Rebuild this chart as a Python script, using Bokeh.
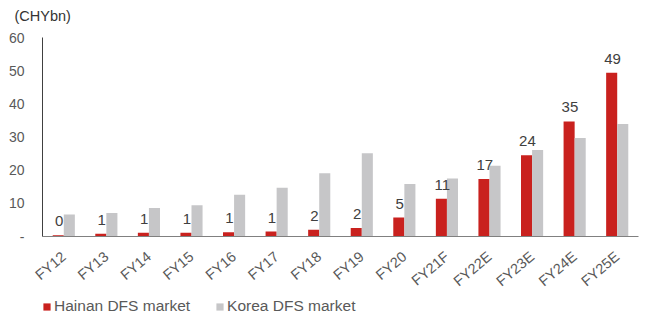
from bokeh.plotting import figure
from bokeh.layouts import column
from bokeh.models import (ColumnDataSource, FactorRange, Range1d, FixedTicker, Legend,
                          LegendItem)
from bokeh.transform import dodge
from bokeh.core.properties import value
from bokeh.embed import file_html
from bokeh.resources import INLINE

categories = ["FY12", "FY13", "FY14", "FY15", "FY16", "FY17", "FY18", "FY19",
              "FY20", "FY21F", "FY22E", "FY23E", "FY24E", "FY25E"]
hainan = [0.4, 0.8, 1.1, 1.1, 1.3, 1.5, 2.0, 2.6, 5.7, 11.4, 17.3, 24.5, 34.7, 49.4]
korea = [6.6, 7.1, 8.6, 9.4, 12.6, 14.7, 19.1, 25.1, 15.8, 17.5, 21.3, 26.1, 29.7, 33.9]
hainan_labels = ["0", "1", "1", "1", "1", "1", "2", "2", "5", "11", "17", "24", "35", "49"]
y_ticks = [0, 10, 20, 30, 40, 50, 60]
series_names = ["Hainan DFS market", "Korea DFS market"]
unit_label = "(CHYbn)"

FONT = "Liberation Sans"
RED = "#C9211E"
GREY = "#C6C6C8"


def strip(h, top=0):
    f = figure(width=645, height=h, x_range=Range1d(0, 1), y_range=Range1d(0, 1),
               x_axis_location=None, y_axis_location=None,
               output_backend="svg", toolbar_location=None,
               min_border_left=0, min_border_right=0, min_border_top=top, min_border_bottom=0)
    f.grid.visible = False
    f.outline_line_color = None
    f.background_fill_color = "white"
    f.border_fill_color = "white"
    return f


# top strip with the unit label (as a title, so it is not clipped)
p0 = strip(29, top=26)
p0.title.text = unit_label
p0.title.align = "left"
p0.title.offset = -28
p0.title.standoff = 5
p0.title.text_font = FONT
p0.title.text_font_size = "14.5px"
p0.title.text_font_style = "normal"
p0.title.text_color = "#333333"

src = ColumnDataSource(dict(cat=categories, hainan=hainan, korea=korea, lab=hainan_labels))

p = figure(width=645, height=269, x_range=FactorRange(factors=categories),
           y_range=Range1d(0, 60), output_backend="svg", toolbar_location=None,
           min_border_left=42, min_border_right=7, min_border_top=8, min_border_bottom=61)
p.outline_line_color = None
p.background_fill_color = "white"
p.border_fill_color = "white"
p.xgrid.grid_line_color = None
p.ygrid.grid_line_color = None

r1 = p.vbar(x=dodge("cat", -0.13, range=p.x_range), top="hainan", width=0.26,
            source=src, fill_color=RED, line_color=None)
r2 = p.vbar(x=dodge("cat", 0.13, range=p.x_range), top="korea", width=0.26,
            source=src, fill_color=GREY, line_color=None)

p.text(x=dodge("cat", -0.11, range=p.x_range), y="hainan", text="lab", source=src,
       text_align="center", text_baseline="bottom", y_offset=-9,
       text_font=value(FONT), text_font_size="15px", text_color="#404040")

# axes
p.yaxis.ticker = FixedTicker(ticks=y_ticks)
p.yaxis.major_label_overrides = {0: "-"}
p.yaxis.major_tick_line_color = None
p.yaxis.minor_tick_line_color = None
p.yaxis.axis_line_color = "#404040"
p.yaxis.major_label_standoff = 12
p.yaxis.major_label_text_font = FONT
p.yaxis.major_label_text_font_size = "14px"
p.yaxis.major_label_text_color = "#595959"

p.xaxis.major_tick_line_color = None
p.xaxis.axis_line_color = "#808080"
p.xaxis.major_label_orientation = 0.7
p.xaxis.major_label_standoff = 12
p.xaxis.major_label_text_font = FONT
p.xaxis.major_label_text_font_size = "14.5px"
p.xaxis.major_label_text_color = "#595959"

# legend strip
p2 = strip(22)
l1 = p2.vbar(x=[0], top=[0], width=0.0, fill_color=RED, line_color=None)
l2 = p2.vbar(x=[0], top=[0], width=0.0, fill_color=GREY, line_color=None)

legend = Legend(items=[LegendItem(label=series_names[0], renderers=[l1]),
                       LegendItem(label=series_names[1], renderers=[l2])],
                orientation="horizontal", location=(0, 5))
legend.label_text_font = FONT
legend.label_text_font_size = "15.5px"
legend.label_text_color = "#595959"
legend.glyph_width = 9
legend.glyph_height = 9
legend.label_standoff = 3
legend.spacing = 25
legend.padding = 0
legend.margin = 0
legend.label_height = 16
legend.border_line_color = None
legend.background_fill_alpha = 0
p2.add_layout(legend, "center")

layout = column(p0, p, p2, spacing=0)
open("out.html", "w").write(file_html(layout, INLINE))
